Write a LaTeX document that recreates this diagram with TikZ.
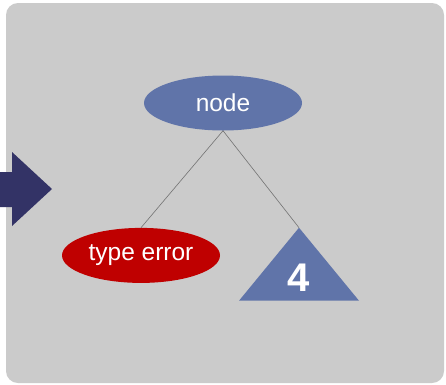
\documentclass[tikz,border=0pt]{standalone}
\usepackage{fontspec}
\setmainfont{Liberation Sans}
\usetikzlibrary{shapes,positioning}

\definecolor{panelGray}{HTML}{CBCBCB}
\definecolor{nodeBlue}{HTML}{6074A9}
\definecolor{errRed}{HTML}{BF0000}
\definecolor{arrowNavy}{HTML}{333366}

\begin{document}
\begin{tikzpicture}[x=1pt,y=-1pt]
\tikzset{myFont/.style={font=\fontsize{24.5}{29}\selectfont}}
\tikzset{myEllipse/.style={ellipse,minimum width=158pt,minimum height=55pt,inner sep=0pt,text=white,myFont}}
\tikzset{myEdge/.style={draw=black!55,line width=0.6pt}}

\useasboundingbox (0,0) rectangle (446,384);
\fill[white] (0,0) rectangle (446,384);
\fill[panelGray,rounded corners=12pt] (6,3) rectangle (444,383);
% incoming arrow
\fill[arrowNavy] (0,172) -- (12,172) -- (12,152) -- (52,189) -- (12,226) -- (12,207) -- (0,207) -- cycle;

\node[myEllipse,fill=nodeBlue] (root) at (223,103) {node};
\node[myEllipse,fill=errRed,below=97pt of root,xshift=-82pt] (err) {type error};
\coordinate[below=97pt of root,xshift=76pt] (leaf);
\fill[nodeBlue] (leaf) -- ++(60,73) -- ++(-120,0) -- cycle;
\node[text=white,inner sep=0pt,font=\bfseries\fontsize{40}{44}\selectfont] (four) at (299,278) {4};

\path[myEdge] (root.south) -- (err.north);
\path[myEdge] (root.south) -- (leaf);
\end{tikzpicture}
\end{document}
